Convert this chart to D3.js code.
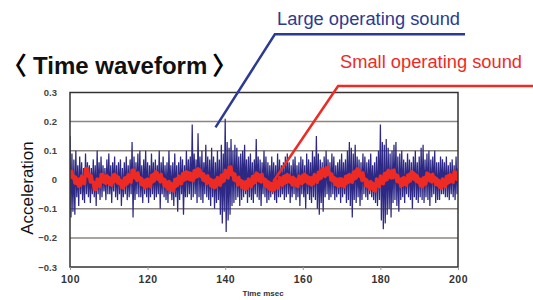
<!DOCTYPE html>
<meta charset="utf-8">
<script src="https://cdn.jsdelivr.net/npm/d3@7"></script>
<style>
  body { margin: 0; background: #fff; }
  text { font-family: "Liberation Sans", Arial, sans-serif; }
</style>
<div id="chart"></div>
<script>

// sampling of the waveforms (msec)
var t0 = 100, dt = 0.25;

// large operating sound (blue), acceleration, one value per 0.25 ms
var largeSound = [
  0.15,-0.13,0.09,-0.11, 0.07,-0.12,0.10,-0.06, 0.05,-0.09,0.08,-0.05, 0.06,-0.07,0.04,-0.08,
  0.09,-0.05,0.06,-0.06, 0.05,-0.08,0.04,-0.05, 0.07,-0.06,0.05,-0.09, 0.10,-0.05,0.06,-0.07,
  0.08,-0.06,0.05,-0.04, 0.04,-0.07,0.07,-0.05, 0.09,-0.05,0.05,-0.08, 0.06,-0.04,0.08,-0.06,
  0.05,-0.07,0.06,-0.05, 0.07,-0.09,0.04,-0.06, 0.06,-0.05,0.08,-0.07, 0.05,-0.06,0.07,-0.05,
  0.13,-0.13,0.08,-0.07, 0.06,-0.05,0.09,-0.06, 0.10,-0.06,0.05,-0.08, 0.07,-0.05,0.10,-0.06,
  0.06,-0.08,0.05,-0.06, 0.09,-0.05,0.06,-0.07, 0.07,-0.06,0.05,-0.05, 0.10,-0.10,0.06,-0.05,
  0.08,-0.06,0.05,-0.07, 0.06,-0.08,0.10,-0.05, 0.05,-0.07,0.06,-0.09, 0.09,-0.06,0.05,-0.11,
  0.06,-0.07,0.08,-0.05, 0.07,-0.12,0.05,-0.06, 0.10,-0.06,0.07,-0.05, 0.08,-0.07,0.19,-0.06,
  0.09,-0.05,0.07,-0.08, 0.16,-0.06,0.08,-0.07, 0.10,-0.08,0.06,-0.05, 0.12,-0.06,0.08,-0.07,
  0.07,-0.09,0.11,-0.06, 0.08,-0.10,0.06,-0.08, 0.10,-0.07,0.07,-0.12, 0.12,-0.15,0.09,-0.11,
  0.21,-0.18,0.13,-0.14, 0.11,-0.12,0.14,-0.09, 0.10,-0.08,0.12,-0.07, 0.11,-0.06,0.08,-0.09,
  0.09,-0.07,0.10,-0.06, 0.12,-0.05,0.07,-0.08, 0.08,-0.06,0.09,-0.07, 0.06,-0.08,0.07,-0.05,
  0.14,-0.06,0.08,-0.07, 0.07,-0.09,0.06,-0.05, 0.10,-0.06,0.08,-0.08, 0.06,-0.07,0.05,-0.06,
  0.08,-0.05,0.06,-0.07, 0.05,-0.08,0.09,-0.06, 0.07,-0.06,0.05,-0.05, 0.06,-0.07,0.08,-0.06,
  0.09,-0.05,0.06,-0.08, 0.05,-0.06,0.07,-0.05, 0.08,-0.07,0.05,-0.06, 0.06,-0.09,0.08,-0.05,
  0.07,-0.06,0.05,-0.10, 0.09,-0.05,0.07,-0.07, 0.06,-0.08,0.10,-0.06, 0.08,-0.07,0.15,-0.10,
  0.09,-0.12,0.07,-0.08, 0.06,-0.11,0.08,-0.06, 0.10,-0.05,0.07,-0.07, 0.06,-0.06,0.09,-0.05,
  0.08,-0.07,0.05,-0.06, 0.06,-0.05,0.07,-0.08, 0.09,-0.06,0.06,-0.05, 0.07,-0.08,0.10,-0.07,
  0.13,-0.09,0.11,-0.13, 0.09,-0.07,0.12,-0.08, 0.08,-0.06,0.07,-0.09, 0.06,-0.07,0.09,-0.05,
  0.08,-0.06,0.06,-0.07, 0.07,-0.05,0.09,-0.06, 0.05,-0.07,0.06,-0.08, 0.08,-0.09,0.10,-0.07,
  0.19,-0.14,0.13,-0.17, 0.12,-0.15,0.14,-0.12, 0.11,-0.10,0.09,-0.13, 0.10,-0.08,0.12,-0.07,
  0.13,-0.09,0.08,-0.11, 0.09,-0.07,0.10,-0.06, 0.07,-0.08,0.06,-0.05, 0.09,-0.06,0.07,-0.07,
  0.06,-0.10,0.08,-0.06, 0.10,-0.07,0.06,-0.08, 0.08,-0.06,0.11,-0.07, 0.12,-0.08,0.07,-0.06,
  0.09,-0.07,0.10,-0.09, 0.07,-0.06,0.08,-0.05, 0.10,-0.08,0.06,-0.07, 0.06,-0.07,0.08,-0.05,
  0.07,-0.05,0.06,-0.06, 0.08,-0.06,0.05,-0.07, 0.06,-0.05,0.07,-0.06, 0.05,-0.07,0.08,-0.05,
  0.04
];

// small operating sound (red), same sampling
var smallSound = [
  0.033,0.009,0.029,0.006, 0.013,-0.011,0.009,-0.014, 0.001,-0.023,0.004,-0.019, 0.013,-0.011,0.009,-0.014,
  0.038,0.014,0.039,0.011, 0.018,-0.008,0.014,-0.009, -0.007,-0.033,-0.011,-0.034, 0.003,-0.021,-0.001,-0.024,
  0.018,-0.006,0.019,-0.009, 0.011,-0.013,0.014,-0.009, 0.008,-0.016,0.004,-0.019, 0.016,-0.008,0.019,-0.004,
  0.013,-0.011,0.009,-0.014, -0.002,-0.026,-0.006,-0.029, 0.006,-0.018,0.009,-0.014, 0.018,-0.006,0.014,-0.009,
  0.033,0.009,0.034,0.006, 0.021,-0.003,0.024,0.001, 0.008,-0.016,0.004,-0.019, -0.004,-0.028,-0.001,-0.024,
  0.003,-0.021,-0.001,-0.024, 0.016,-0.008,0.019,-0.004, 0.028,0.004,0.024,0.001, 0.016,-0.008,0.019,-0.004,
  0.003,-0.021,-0.001,-0.024, -0.009,-0.033,-0.006,-0.029, -0.012,-0.036,-0.016,-0.039, 0.001,-0.023,0.004,-0.019,
  0.013,-0.011,0.009,-0.014, 0.021,-0.003,0.024,0.001, 0.028,0.004,0.024,0.001, 0.023,-0.001,0.019,-0.004,
  0.031,0.007,0.034,0.011, 0.038,0.014,0.034,0.011, 0.023,-0.001,0.019,-0.004, 0.011,-0.013,0.014,-0.009,
  0.003,-0.021,-0.001,-0.024, -0.004,-0.028,-0.001,-0.024, 0.008,-0.016,0.004,-0.019, 0.016,-0.008,0.019,-0.004,
  0.033,0.009,0.029,0.006, 0.043,0.019,0.044,0.016, 0.023,-0.001,0.019,-0.004, 0.006,-0.018,0.009,-0.014,
  -0.002,-0.026,-0.006,-0.029, -0.009,-0.033,-0.006,-0.029, 0.003,-0.021,-0.001,-0.024, 0.011,-0.013,0.014,-0.009,
  0.023,-0.001,0.019,-0.004, 0.016,-0.008,0.019,-0.004, 0.003,-0.021,-0.001,-0.024, -0.007,-0.031,-0.011,-0.034,
  -0.014,-0.038,-0.011,-0.034, -0.002,-0.026,-0.006,-0.029, 0.008,-0.016,0.004,-0.019, 0.011,-0.013,0.014,-0.009,
  0.018,-0.006,0.014,-0.009, 0.006,-0.018,0.009,-0.014, 0.003,-0.021,-0.001,-0.024, 0.013,-0.011,0.009,-0.014,
  0.016,-0.008,0.019,-0.004, 0.013,-0.011,0.009,-0.014, 0.006,-0.018,0.009,-0.014, 0.018,-0.006,0.014,-0.009,
  0.026,0.002,0.029,0.006, 0.038,0.014,0.034,0.011, 0.041,0.017,0.044,0.021, 0.023,-0.001,0.019,-0.004,
  0.008,-0.016,0.004,-0.019, 0.001,-0.023,0.004,-0.019, 0.003,-0.021,-0.001,-0.024, 0.011,-0.013,0.014,-0.009,
  0.018,-0.006,0.014,-0.009, 0.026,0.002,0.029,0.006, 0.038,0.014,0.034,0.011, 0.021,-0.003,0.024,0.001,
  0.003,-0.021,-0.001,-0.024, -0.009,-0.033,-0.006,-0.029, -0.012,-0.036,-0.016,-0.039, 0.003,-0.021,-0.001,-0.024,
  0.013,-0.011,0.009,-0.014, 0.021,-0.003,0.024,0.001, 0.033,0.009,0.029,0.006, 0.031,0.007,0.034,0.011,
  0.018,-0.006,0.014,-0.009, 0.001,-0.023,0.004,-0.019, 0.008,-0.016,0.004,-0.019, 0.016,-0.008,0.019,-0.004,
  0.028,0.004,0.024,0.001, 0.018,-0.006,0.014,-0.009, 0.003,-0.021,-0.001,-0.024, 0.006,-0.018,0.009,-0.014,
  0.023,-0.001,0.019,-0.004, 0.016,-0.008,0.019,-0.004, 0.008,-0.016,0.004,-0.019, -0.002,-0.026,-0.006,-0.029,
  0.003,-0.021,-0.001,-0.024, 0.011,-0.013,0.014,-0.009, 0.018,-0.006,0.014,-0.009, 0.028,0.004,0.024,0.001,
  0.03
];

var xTicks = [100, 120, 140, 160, 180, 200];
var yTicks = [0.3, 0.2, 0.1, 0, -0.1, -0.2, -0.3];

var margin = {top: 92.5, right: 75, bottom: 33, left: 70},
  width = 533 - margin.left - margin.right,
  height = 300 - margin.top - margin.bottom;

var svg = d3.select("#chart")
  .append("svg")
    .attr("width", 533)
    .attr("height", 300);

var g = svg.append("g")
  .attr("transform", "translate(" + margin.left + "," + margin.top + ")");

var x = d3.scaleLinear().domain([100, 200]).range([0, width]);
var y = d3.scaleLinear().domain([-0.3, 0.3]).range([height, 0]);

// grid lines
g.selectAll(".grid")
  .data(yTicks.filter(d => d > -0.3 && d < 0.3))
  .enter()
  .append("line")
    .attr("x1", 0)
    .attr("x2", width)
    .attr("y1", d => y(d))
    .attr("y2", d => y(d))
    .attr("stroke", "#8c8480")
    .attr("stroke-width", 1.5);

g.append("defs").append("clipPath").attr("id", "clip")
  .append("rect").attr("width", width).attr("height", height);

var line = d3.line()
  .x((d, i) => x(t0 + i * dt))
  .y(d => y(d));

g.append("path")
  .datum(largeSound)
  .attr("clip-path", "url(#clip)")
  .attr("fill", "none")
  .attr("stroke", "#2c2884")
  .attr("stroke-width", 1.25)
  .attr("d", line);

g.append("path")
  .datum(smallSound)
  .attr("clip-path", "url(#clip)")
  .attr("fill", "none")
  .attr("stroke", "#ee2a24")
  .attr("stroke-width", 3.4)
  .attr("stroke-linejoin", "round")
  .attr("d", line);

// frame
g.append("rect")
  .attr("width", width)
  .attr("height", height)
  .attr("fill", "none")
  .attr("stroke", "#333")
  .attr("stroke-width", 1.5);

// axes
var xAxis = g.append("g")
  .attr("transform", "translate(0," + height + ")")
  .call(d3.axisBottom(x).tickValues(xTicks).tickSize(3).tickPadding(6).tickFormat(d3.format("d")));
xAxis.select(".domain").remove();
xAxis.selectAll("text")
  .attr("font-size", 10.5)
  .attr("font-weight", "bold")
  .attr("letter-spacing", 0.5)
  .attr("fill", "#333")
  .style("font-family", "'Liberation Sans', Arial, sans-serif");
xAxis.selectAll("line").attr("stroke", "#999");

var yAxis = g.append("g")
  .call(d3.axisLeft(y).tickValues(yTicks).tickSize(0).tickPadding(13).tickFormat(d => d === 0 ? "0" : d3.format(".1f")(d)));
yAxis.select(".domain").remove();
yAxis.selectAll("text")
  .attr("font-size", 9.5)
  .attr("font-weight", "bold")
  .attr("fill", "#444")
  .style("font-family", "'Liberation Sans', Arial, sans-serif");

svg.append("text")
  .attr("x", 263)
  .attr("y", 296)
  .attr("text-anchor", "middle")
  .attr("font-size", 8)
  .attr("font-weight", "bold")
  .attr("fill", "#333")
  .text("Time msec");

svg.append("text")
  .attr("transform", "translate(33,188) rotate(-90)")
  .attr("text-anchor", "middle")
  .attr("font-size", 17)
  .attr("fill", "#111")
  .text("Acceleration");

// title
svg.append("text")
  .attr("x", 2)
  .attr("y", 75)
  .attr("font-size", 25)
  .attr("font-weight", "bold")
  .style("font-family", "'Noto Sans CJK JP', sans-serif")
  .text("〈");
svg.append("text")
  .attr("x", 33)
  .attr("y", 74)
  .attr("font-size", 24)
  .attr("font-weight", "bold")
  .attr("fill", "#111")
  .text("Time waveform");
svg.append("text")
  .attr("x", 212)
  .attr("y", 75)
  .attr("font-size", 25)
  .attr("font-weight", "bold")
  .style("font-family", "'Noto Sans CJK JP', sans-serif")
  .text("〉");

// leader lines and labels, anchored in data coordinates
var leaders = [
  {label: "Large operating sound", color: "#2b3a92", pts: [[201.8, 0.5], [152.8, 0.5], [137.5, 0.18]], tx: 277, ty: 25, len: 183},
  {label: "Small operating sound", color: "#ee2a24", pts: [[220, 0.322], [169.1, 0.322], [152.4, -0.006]], tx: 340, ty: 68, len: 182}
];

leaders.forEach(function(d) {
  g.append("path")
    .attr("d", d3.line().x(p => x(p[0])).y(p => y(p[1]))(d.pts))
    .attr("fill", "none")
    .attr("stroke", d.color)
    .attr("stroke-width", 2.5);
  svg.append("text")
    .attr("x", d.tx)
    .attr("y", d.ty)
    .attr("font-size", 18.3)
    .attr("textLength", d.len)
    .attr("lengthAdjust", "spacing")
    .attr("fill", d.color)
    .text(d.label);
});

</script>
